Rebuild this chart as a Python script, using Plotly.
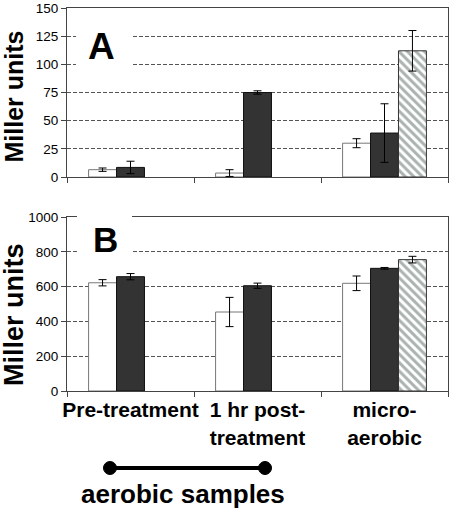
import plotly.graph_objects as go
from plotly.subplots import make_subplots

categories = ["Pre-treatment", "1 hr post-<br>treatment", "micro-<br>aerobic"]

a_white = [6.5, 3.5, 30]
a_white_err = [1.5, 3, 4]
a_black = [8.5, 75, 39]
a_black_err = [5.5, 1.5, 26]
a_hatch = [None, None, 112]
a_hatch_err = [0, 0, 18]

b_white = [622, 454, 619]
b_white_err = [18, 84, 42]
b_black = [657, 605, 705]
b_black_err = [18, 15, 5]
b_hatch = [None, None, 755]
b_hatch_err = [0, 0, 19]

FONT = "Liberation Sans, Arial, sans-serif"

W, H = 450, 508
ML, MR, MT, MB = 67, 2, 8, 117
PW, PH = W - ML - MR, H - MT - MB


def px_x(p):
    return (p - ML) / PW


def px_y(p):
    return (H - MB - p) / PH


fig = make_subplots(rows=2, cols=1, vertical_spacing=0.0)

err_style = dict(type="data", color="black", thickness=1, width=4)

for row, (w, we, k, ke, h, he) in enumerate(
    [(a_white, a_white_err, a_black, a_black_err, a_hatch, a_hatch_err),
     (b_white, b_white_err, b_black, b_black_err, b_hatch, b_hatch_err)], start=1):
    fig.add_trace(go.Bar(x=categories, y=w, error_y=dict(array=we, **err_style),
                         marker=dict(color="white", line=dict(color="#777777", width=1)),
                         showlegend=False), row=row, col=1)
    fig.add_trace(go.Bar(x=categories, y=k, error_y=dict(array=ke, **err_style),
                         marker=dict(color="#333333", line=dict(color="#111111", width=1)),
                         showlegend=False), row=row, col=1)
    fig.add_trace(go.Bar(x=categories, y=h, error_y=dict(array=he, **err_style),
                         marker=dict(color="white", line=dict(color="#333333", width=1),
                                     pattern=dict(shape="\\", fgcolor="#56675f", bgcolor="white",
                                                  size=6, solidity=0.5, fillmode="overlay")),
                         showlegend=False), row=row, col=1)

common_x = dict(type="category", showline=True, linecolor="#444444", linewidth=1, mirror=True,
                ticks="outside", ticklen=5, tickcolor="#444444", tickson="boundaries",
                showgrid=False, zeroline=False, automargin=False, tickangle=0,
                domain=[0.0, 1.0])
common_y = dict(showline=True, linecolor="#444444", linewidth=1, mirror=True,
                ticks="outside", ticklen=5, tickcolor="#444444",
                showgrid=True, gridcolor="#555555", griddash="4px,2px", gridwidth=1,
                zeroline=False, automargin=False,
                tickfont=dict(family=FONT, size=13.5, color="black"))

fig.update_xaxes(**common_x)
fig.update_xaxes(showticklabels=False, row=1, col=1)
fig.update_xaxes(tickfont=dict(family=FONT, size=21, color="black", weight="bold"), row=2, col=1)

fig.update_yaxes(**common_y)
fig.update_yaxes(range=[0, 150], dtick=25, domain=[px_y(177), 1.0], row=1, col=1)
fig.update_yaxes(range=[0, 1000], dtick=200, domain=[0.0, px_y(217)], row=2, col=1)

shapes = []
# white boxes behind panel letters
shapes.append(dict(type="rect", xref="paper", yref="paper", x0=px_x(76), x1=px_x(132),
                   y0=px_y(72), y1=px_y(14), fillcolor="white", line=dict(width=0), layer="above"))
shapes.append(dict(type="rect", xref="paper", yref="paper", x0=px_x(77), x1=px_x(132),
                   y0=px_y(258), y1=px_y(210), fillcolor="white", line=dict(width=0), layer="above"))
# aerobic samples bracket
shapes.append(dict(type="line", xref="paper", yref="paper", x0=px_x(110), x1=px_x(265),
                   y0=px_y(468), y1=px_y(468), line=dict(color="black", width=4)))
for cx in (110, 265):
    shapes.append(dict(type="circle", xref="paper", yref="paper", xsizemode="pixel",
                       ysizemode="pixel", xanchor=px_x(cx), yanchor=px_y(468),
                       x0=-6.5, x1=6.5, y0=-6.5, y1=6.5, fillcolor="black",
                       line=dict(color="black", width=1)))

ann_common = dict(xref="paper", yref="paper", showarrow=False, xanchor="center", yanchor="middle")
annotations = [
    dict(text="<b>A</b>", x=px_x(101), y=px_y(46),
         font=dict(family=FONT, size=37, color="black"), **ann_common),
    dict(text="<b>B</b>", x=px_x(105), y=px_y(240),
         font=dict(family=FONT, size=35, color="black"), **ann_common),
    dict(text="<b>Miller units</b>", x=px_x(13.5), y=px_y(97), textangle=-90,
         font=dict(family=FONT, size=25, color="black"), **ann_common),
    dict(text="<b>Miller units</b>", x=px_x(14), y=px_y(314), textangle=-90,
         font=dict(family=FONT, size=27, color="black"), **ann_common),
    dict(text="<b>aerobic samples</b>", x=px_x(183), y=px_y(494),
         font=dict(family=FONT, size=26, color="black"), **ann_common),
]

fig.update_layout(
    width=W, height=H, margin=dict(l=ML, r=MR, t=MT, b=MB, autoexpand=False),
    paper_bgcolor="white", plot_bgcolor="white",
    barmode="group", bargap=0.34, bargroupgap=0.0,
    shapes=shapes, annotations=annotations,
    font=dict(family=FONT, color="black"),
)

fig.write_html("out.html", config={"displayModeBar": False},
               post_script="document.body.style.margin='0';")
